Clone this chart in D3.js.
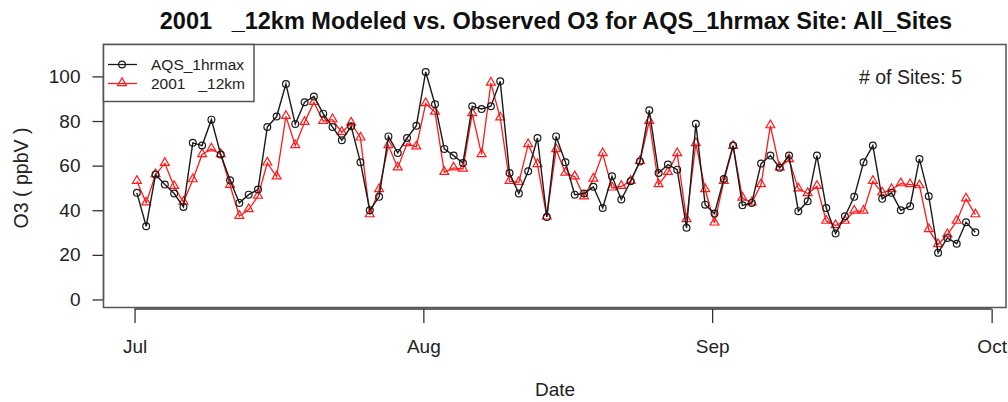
<!DOCTYPE html>
<html>
<head>
<meta charset="utf-8">
<script src="https://cdn.jsdelivr.net/npm/d3@7"></script>
<style>
  body { margin: 0; background: #fff; }
  svg { display: block; font-family: "Liberation Sans", Arial, Helvetica, sans-serif; }
  .ttl { white-space: pre; }
</style>
</head>
<body>
<div id="chart"></div>
<script>
// daily values, Jul 1 .. Sep 29 2001
var startDate = "2001-07-01";
var obsValues = [47.8, 32.8, 56, 51.5, 47.5, 41.5, 70.2, 69, 80.6, 65,
  53.4, 43.3, 47, 49.3, 77.3, 82, 96.6, 78.7, 88.4, 91,
  83.3, 77.3, 71.4, 77.6, 61.5, 40, 46, 73.1, 65.7, 72.4,
  77.9, 102, 87.5, 67.5, 64.5, 61.2, 86.6, 85.4, 86.6, 97.8,
  56.7, 47.5, 57.5, 72.4, 37, 73.1, 61.5, 47, 47.5, 50.5,
  41, 55.2, 44.8, 53, 61.9, 84.8, 56.7, 60.5, 58.2, 32.1,
  78.8, 42.5, 38.5, 54, 69, 42.2, 43.3, 60.9, 64.5, 59,
  64.5, 39.6, 44, 64.5, 41, 29.6, 37.3, 46, 61.5, 69,
  45.1, 47.8, 40, 41.8, 63, 46.3, 20.9, 27.6, 25, 34.6, 30.1];
var modValues = [53, 43.3, 56, 61, 50.7, 43.6, 53.7, 65, 67.5, 65,
  51.2, 37.3, 40.3, 46.3, 61.2, 55, 82.1, 69, 79.4, 88.4,
  79.9, 80.6, 74.9, 79.1, 72.4, 38, 49.3, 69, 59, 69.9,
  68.4, 87.8, 84, 57, 59, 58.5, 83.3, 65, 97, 81.4,
  53, 52.5, 69.4, 60.5, 37, 67.2, 56.7, 55, 46, 54,
  65.4, 50, 50.7, 53, 61.9, 79.9, 51.5, 57, 65.4, 35.8,
  69.9, 49.3, 34.3, 53, 68.7, 45.5, 43.3, 51.5, 77.9, 59,
  62.7, 49.6, 47.5, 50.7, 35.1, 33.1, 35.1, 39.6, 39.6, 53,
  47.8, 49.3, 51.9, 51.5, 51, 31.3, 24.6, 29.1, 35.1, 45.1, 38];
var seriesNames = ["AQS_1hrmax", "2001   _12km"];
var yTicks = [0, 20, 40, 60, 80, 100];
var xTickDates = ["2001-07-01", "2001-08-01", "2001-09-01", "2001-10-01"];

var W = 1008, H = 402;
var box = { left: 103.5, right: 1006, top: 44.5, bottom: 307.5 };
var parse = d3.utcParse("%Y-%m-%d");
var t0 = parse(startDate);
var hourOffset = 6;

var dates = obsValues.map(function(d, i) {
  return d3.utcHour.offset(d3.utcDay.offset(t0, i), hourOffset);
});

var x = d3.scaleUtc()
  .domain([d3.utcHour.offset(t0, -80), d3.utcHour.offset(t0, 93.55 * 24)])
  .range([box.left, box.right]);
var y = d3.scaleLinear()
  .domain([-3.6, 114.3])
  .range([box.bottom, box.top]);

var svg = d3.select("#chart").append("svg")
  .attr("width", W).attr("height", H);

// title
svg.append("text")
  .attr("class", "ttl")
  .attr("x", 556).attr("y", 29)
  .attr("text-anchor", "middle")
  .style("font-size", "23.5px").style("font-weight", "bold")
  .attr("fill", "#111")
  .text("2001   _12km Modeled vs. Observed O3 for AQS_1hrmax Site: All_Sites");

// y axis
var yAxis = svg.append("g")
  .attr("transform", "translate(" + box.left + ",0)")
  .call(d3.axisLeft(y).tickValues(yTicks).tickSize(11).tickPadding(12));
yAxis.select(".domain").remove();
yAxis.selectAll("line").attr("stroke", "#333").attr("stroke-width", 1.3);
yAxis.selectAll("text").style("font-size", "19px").attr("fill", "#222")
  .style("font-family", "Liberation Sans, Arial, sans-serif");
svg.append("line")
  .attr("x1", box.left).attr("x2", box.left)
  .attr("y1", y(0)).attr("y2", y(100))
  .attr("stroke", "#333").attr("stroke-width", 1.3);

// x axis
var xt = xTickDates.map(parse);
var xAxis = svg.append("g")
  .attr("transform", "translate(0," + (box.bottom + 1.5) + ")")
  .call(d3.axisBottom(x).tickValues(xt).tickSize(14).tickPadding(17)
    .tickFormat(d3.utcFormat("%b")));
xAxis.select(".domain").remove();
xAxis.selectAll("line").attr("stroke", "#333").attr("stroke-width", 1.3);
xAxis.selectAll("text").style("font-size", "19px").attr("fill", "#222")
  .style("font-family", "Liberation Sans, Arial, sans-serif");
svg.append("line")
  .attr("x1", x(xt[0])).attr("x2", x(xt[xt.length - 1]))
  .attr("y1", box.bottom + 1.5).attr("y2", box.bottom + 1.5)
  .attr("stroke", "#333").attr("stroke-width", 1.3);

// axis titles
svg.append("text")
  .attr("x", 555).attr("y", 396)
  .attr("text-anchor", "middle")
  .style("font-size", "19px").attr("fill", "#222")
  .text("Date");
svg.append("text")
  .attr("class", "ttl")
  .attr("transform", "translate(28," + ((box.top + box.bottom) / 2 + 2) + ") rotate(-90)")
  .attr("text-anchor", "middle")
  .style("font-size", "19.5px").attr("fill", "#222")
  .text("O3 ( ppbV )");

// plot box
svg.append("rect")
  .attr("x", box.left).attr("y", box.top)
  .attr("width", box.right - box.left).attr("height", box.bottom - box.top)
  .attr("fill", "none").attr("stroke", "#555").attr("stroke-width", 1.5);

var line = d3.line()
  .x(function(d, i) { return x(dates[i]); })
  .y(function(d) { return y(d); });

var tri = d3.symbol().type(d3.symbolTriangle).size(34);

// modeled (red)
svg.append("path")
  .attr("d", line(modValues))
  .attr("fill", "none").attr("stroke", "#ff1a1a").attr("stroke-width", 1.3);
svg.append("g").selectAll("path")
  .data(modValues)
  .enter().append("path")
    .attr("d", tri)
    .attr("transform", function(d, i) { return "translate(" + x(dates[i]) + "," + (y(d) - 0.5) + ")"; })
    .attr("fill", "none").attr("stroke", "#ff1a1a").attr("stroke-width", 1.2);

// observed (black)
svg.append("path")
  .attr("d", line(obsValues))
  .attr("fill", "none").attr("stroke", "#1a1a1a").attr("stroke-width", 1.4);
svg.append("g").selectAll("circle")
  .data(obsValues)
  .enter().append("circle")
    .attr("cx", function(d, i) { return x(dates[i]); })
    .attr("cy", function(d) { return y(d); })
    .attr("r", 3.4)
    .attr("fill", "none").attr("stroke", "#1a1a1a").attr("stroke-width", 1.2);

// sites note
svg.append("text")
  .attr("x", 962).attr("y", 84)
  .attr("text-anchor", "end")
  .style("font-size", "19.5px").attr("fill", "#222")
  .text("# of Sites: 5");

// legend
var leg = svg.append("g");
leg.append("rect")
  .attr("x", 103.5).attr("y", 44.5).attr("width", 150.5).attr("height", 57)
  .attr("fill", "#fff").attr("stroke", "#555").attr("stroke-width", 1.5);
var legColors = ["#1a1a1a", "#ff1a1a"];
seriesNames.forEach(function(name, i) {
  var ly = 64.5 + i * 19;
  leg.append("line")
    .attr("x1", 108).attr("x2", 137).attr("y1", ly).attr("y2", ly)
    .attr("stroke", legColors[i]).attr("stroke-width", 1.3);
  if (i === 0) {
    leg.append("circle").attr("cx", 122).attr("cy", ly).attr("r", 3.4)
      .attr("fill", "none").attr("stroke", legColors[i]).attr("stroke-width", 1.2);
  } else {
    leg.append("path").attr("d", tri)
      .attr("transform", "translate(122," + (ly - 0.5) + ")")
      .attr("fill", "none").attr("stroke", legColors[i]).attr("stroke-width", 1.2);
  }
  leg.append("text")
    .attr("class", "ttl")
    .attr("x", 151).attr("y", ly + 5.5)
    .style("font-size", "15.5px").attr("fill", "#222")
    .text(name);
});
</script>
</body>
</html>
